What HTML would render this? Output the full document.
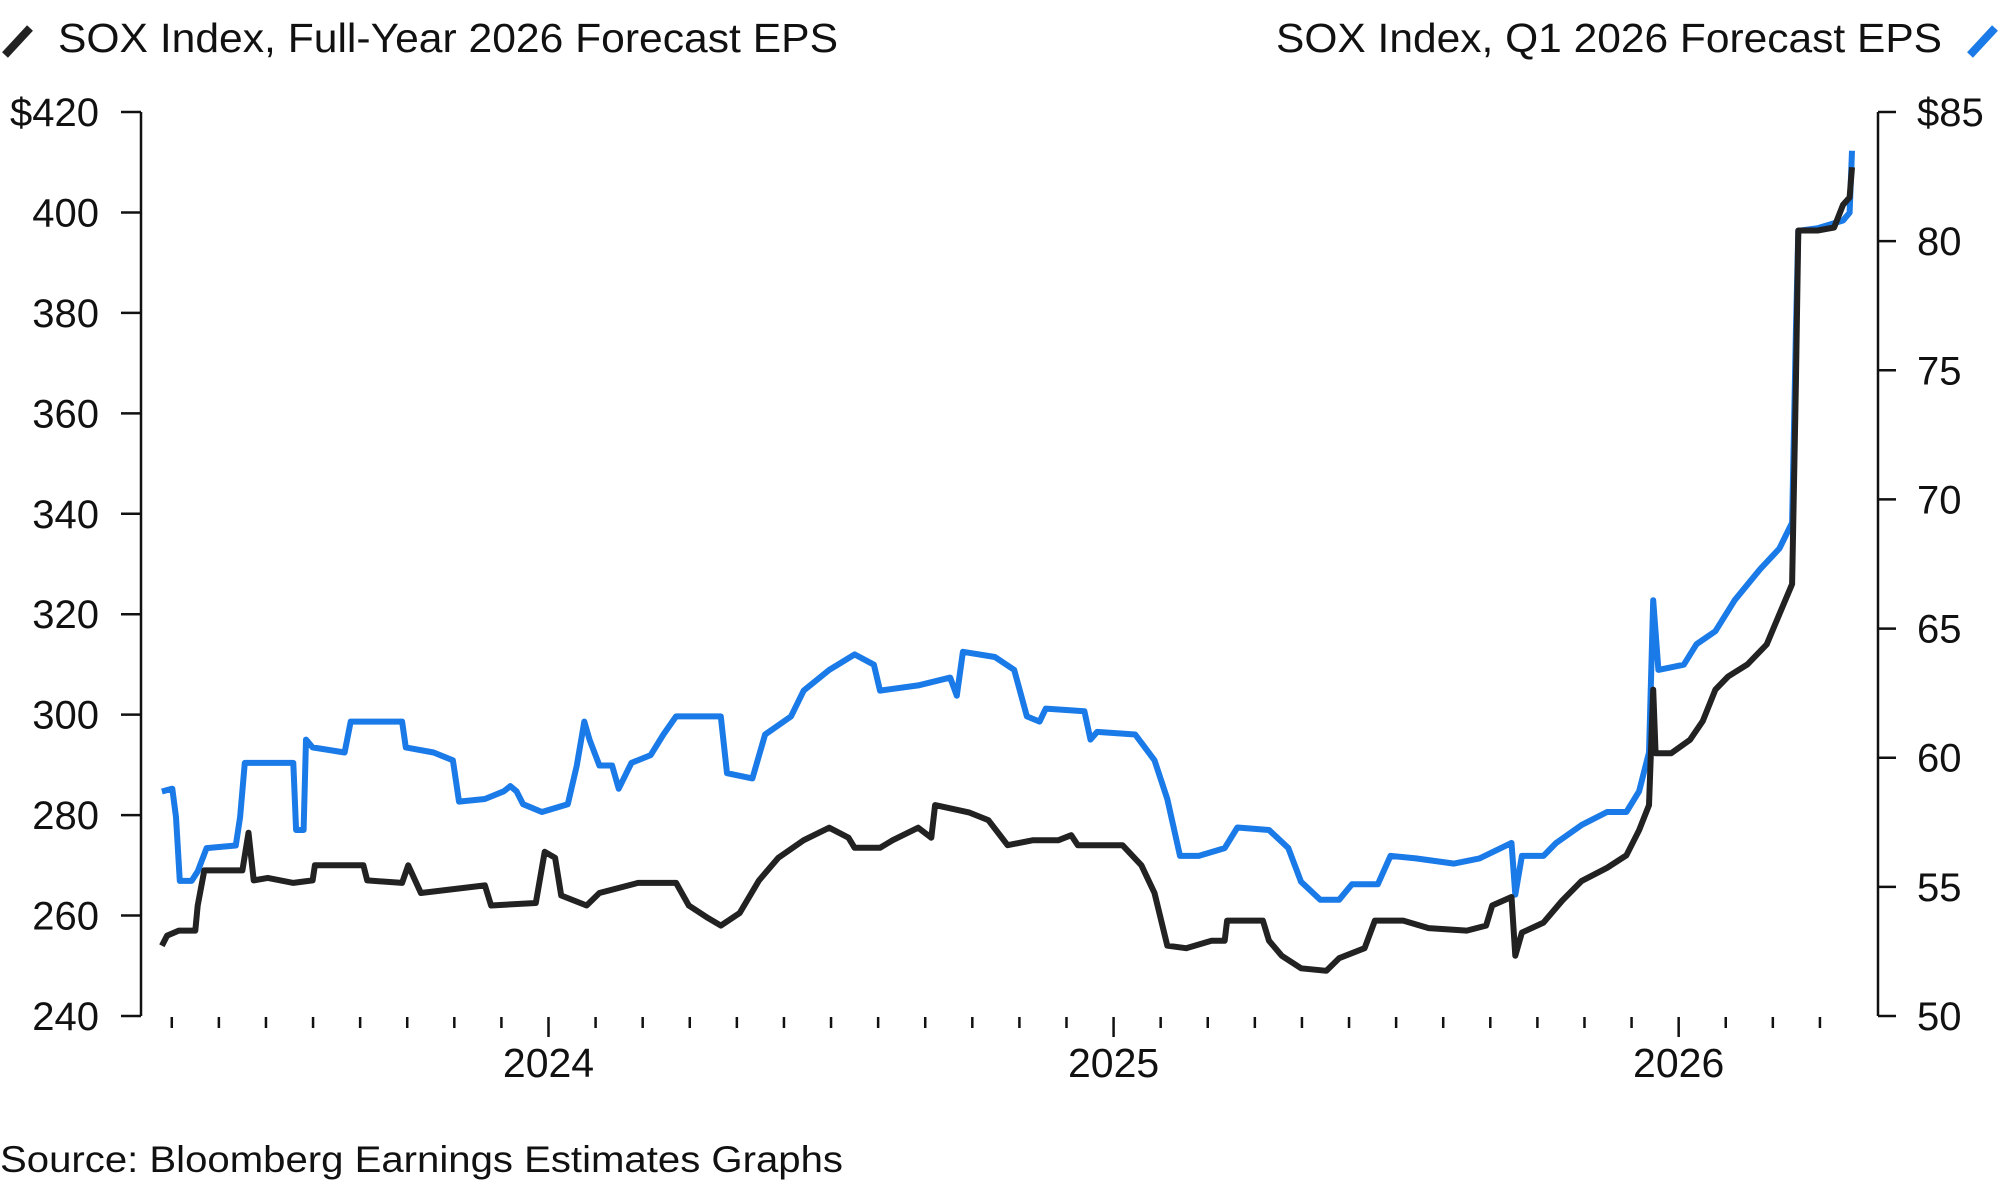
<!DOCTYPE html>
<html><head><meta charset="utf-8"><style>
html,body{margin:0;padding:0;background:#fff;width:2000px;height:1181px;overflow:hidden}
svg{display:block;font-family:"Liberation Sans",sans-serif}
</style></head><body>
<svg id="chart" width="2000" height="1181" viewBox="0 0 2000 1181" xmlns="http://www.w3.org/2000/svg">
<g>
<line x1="5" y1="55" x2="30" y2="28" stroke="#222" stroke-width="8"/>
<text x="58" y="52" font-size="41" fill="#111" textLength="780" lengthAdjust="spacingAndGlyphs">SOX Index, Full-Year 2026 Forecast EPS</text>
</g>
<g>
<text x="1276" y="52" font-size="41" fill="#111" textLength="666" lengthAdjust="spacingAndGlyphs">SOX Index, Q1 2026 Forecast EPS</text>
<line x1="1970" y1="55" x2="1995" y2="28" stroke="#1a7ae8" stroke-width="8"/>
</g>
<g id="axes"></g>
<g id="series"></g>
<text x="0" y="1172" font-size="37" fill="#111" textLength="843" lengthAdjust="spacingAndGlyphs">Source: Bloomberg Earnings Estimates Graphs</text>
</svg>
<script>
const leftTicks=[240,260,280,300,320,340,360,380,400,420];
const rightTicks=[50,55,60,65,70,75,80,85];
const yearLabels=["2024","2025","2026"];
const yearMonths=[0,12,24];
// months since Jan 2024
const blackMonths=[-8.21,-8.1,-7.85,-7.5,-7.45,-7.31,-6.5,-6.37,-6.26,-5.96,-5.42,-5.01,-4.96,-3.93,-3.85,-3.11,-2.98,-2.71,-1.35,-1.22,-0.27,-0.08,0.14,0.27,0.81,1.08,1.9,2.71,2.98,3.39,3.66,4.06,4.47,4.88,5.42,5.96,6.37,6.5,7.04,7.31,7.85,8.13,8.21,8.94,9.34,9.75,10.29,10.83,11.1,11.24,12.19,12.59,12.87,13.14,13.54,14.08,14.36,14.41,15.17,15.3,15.57,15.98,16.52,16.79,17.33,17.55,18.15,18.69,19.5,19.91,20.04,20.45,20.53,20.67,21.13,21.53,21.94,22.48,22.89,23.16,23.37,23.46,23.51,23.84,24.24,24.51,24.78,25.05,25.46,25.87,26.14,26.41,26.49,26.54,26.95,27.3,27.49,27.63,27.68];
const blackValues=[254,256,257,257,262,269,269,276.5,267,267.5,266.5,267,270,270,267,266.5,270,264.5,266,262,262.5,272.7,271.5,264,262,264.5,266.5,266.5,262,259.5,258,260.5,267,271.5,275,277.5,275.5,273.5,273.5,275,277.5,275.5,282,280.5,279,274,275,275,276,274,274,270,264.5,254,253.5,255,255,259,259,255,252,249.5,249,251.5,253.5,259,259,257.5,257,258,262,263.7,252,256.6,258.6,263,266.9,269.5,272,277,282,305,292.3,292.3,295,298.7,305,307.6,310,314,320,326,366,396.4,396.4,397,401.5,403,409];
const blueMonths=[-8.21,-7.99,-7.91,-7.83,-7.58,-7.45,-7.26,-6.64,-6.55,-6.45,-5.42,-5.36,-5.2,-5.15,-5.01,-4.33,-4.2,-3.11,-3.03,-2.44,-2.03,-1.9,-1.35,-0.95,-0.81,-0.68,-0.54,-0.14,0.41,0.6,0.76,0.87,1.08,1.35,1.49,1.76,2.17,2.44,2.71,3.66,3.79,4.33,4.6,5.15,5.42,5.96,6.5,6.91,7.04,7.85,8.53,8.67,8.8,9.48,9.89,10.16,10.43,10.56,11.38,11.51,11.65,12.46,12.87,13.14,13.41,13.81,14.36,14.63,15.3,15.71,15.98,16.39,16.79,17.06,17.61,17.88,18.42,19.23,19.77,20.45,20.53,20.67,21.13,21.4,21.94,22.48,22.89,23.16,23.37,23.46,23.57,24.11,24.38,24.78,25.19,25.73,26.14,26.41,26.49,26.54,26.95,27.49,27.63,27.68];
const blueValues=[58.69,58.8,57.7,55.23,55.23,55.6,56.5,56.6,57.7,59.8,59.8,57.2,57.2,60.7,60.4,60.2,61.4,61.4,60.4,60.2,59.9,58.3,58.4,58.7,58.9,58.7,58.2,57.9,58.2,59.7,61.4,60.7,59.7,59.7,58.8,59.8,60.1,60.9,61.6,61.6,59.4,59.2,60.9,61.6,62.6,63.4,64.0,63.6,62.6,62.8,63.1,62.4,64.1,63.9,63.4,61.6,61.4,61.9,61.8,60.7,61.0,60.9,59.9,58.4,56.2,56.2,56.5,57.3,57.2,56.5,55.2,54.5,54.5,55.1,55.1,56.2,56.1,55.9,56.1,56.7,54.7,56.2,56.2,56.7,57.4,57.9,57.9,58.7,60.2,66.1,63.4,63.6,64.4,64.9,66.1,67.3,68.1,69.1,76.5,80.4,80.5,80.8,81.1,83.5];

const NS="http://www.w3.org/2000/svg";
const X0=141,Y0=112,Y1=1016,XR=1878;
const xOf=m=>548.5+m*47.09;
const yL=v=>Y0+(420-v)/180*(Y1-Y0);
const yR=v=>Y0+(85-v)/35*(Y1-Y0);
function mk(tag,attrs,parent){const e=document.createElementNS(NS,tag);for(const k in attrs)e.setAttribute(k,attrs[k]);parent.appendChild(e);return e;}
const axes=document.getElementById('axes'),series=document.getElementById('series');

let la=mk('line',{x1:X0,y1:Y0,x2:X0,y2:Y1,stroke:'#111','stroke-width':2.5},axes);


leftTicks.forEach((v,i)=>{
 const t=mk('line',{x1:121,x2:X0,y1:yL(v),y2:yL(v),stroke:'#111','stroke-width':2.5},axes);
 
 
 const tx=mk('text',{x:99,y:yL(v)+14,'font-size':40,'text-anchor':'end',fill:'#111'},axes);
 tx.textContent=(i===leftTicks.length-1?'$':'')+v;
 
 
});
let ra=mk('line',{x1:XR,y1:Y0,x2:XR,y2:Y1,stroke:'#111','stroke-width':2.5},axes);


rightTicks.forEach((v,i)=>{
 const t=mk('line',{x1:XR,x2:1896,y1:yR(v),y2:yR(v),stroke:'#111','stroke-width':2.5},axes);
 
 
 const tx=mk('text',{x:1917,y:yR(v)+14,'font-size':40,fill:'#111'},axes);
 tx.textContent=(i===rightTicks.length-1?'$':'')+v;
 
 
});
for(let m=-8;m<=27;m++){
 const yr=yearMonths.includes(m);
 const t=mk('line',{x1:xOf(m),x2:xOf(m),y1:1017,y2:yr?1037:1028,stroke:'#111','stroke-width':2.5},axes);
 
 
}
yearLabels.forEach((s,i)=>{
 const tx=mk('text',{x:xOf(yearMonths[i]),y:1077,'font-size':41,'text-anchor':'middle',fill:'#111'},axes);
 tx.textContent=s;
 
 
});
const bp=blueMonths.map((m,i)=>xOf(m).toFixed(1)+','+yR(blueValues[i]).toFixed(1)).join(' ');
const bl=mk('polyline',{points:bp,fill:'none',stroke:'#1a7ae8','stroke-width':6,'stroke-linejoin':'round'},series);


const kp=blackMonths.map((m,i)=>xOf(m).toFixed(1)+','+yL(blackValues[i]).toFixed(1)).join(' ');
const kl=mk('polyline',{points:kp,fill:'none',stroke:'#222','stroke-width':6,'stroke-linejoin':'round'},series);


</script>
</body></html>
